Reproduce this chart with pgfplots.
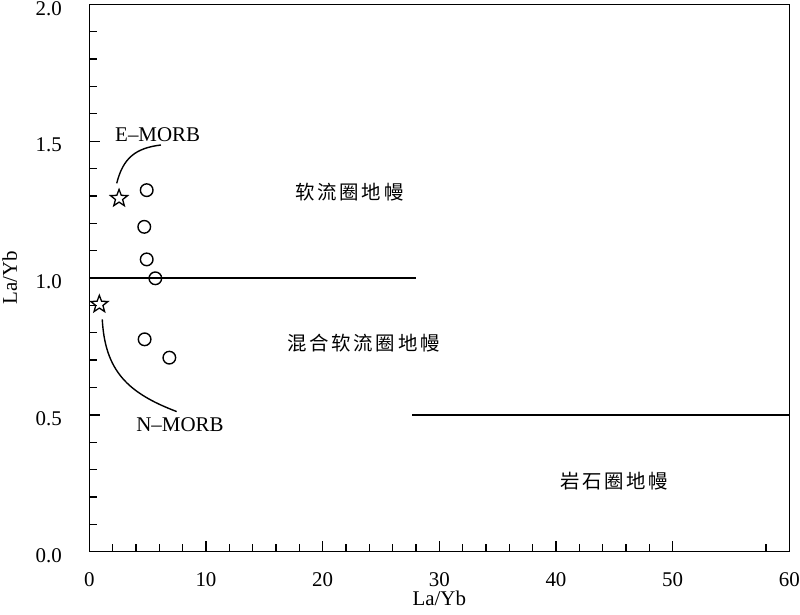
\documentclass[border=0pt]{standalone}
\usepackage{fontspec}
\setmainfont{Liberation Serif}
\newfontfamily\cjk[LetterSpace=14]{Noto Sans CJK SC}
\usepackage{pgfplots}
\pgfplotsset{compat=1.18}

\pgfdeclareplotmark{ostar}{%
  \pgfpathmoveto{\pgfpointpolar{90}{\pgfplotmarksize}}%
  \pgfpathlineto{\pgfpointpolar{126}{0.42\pgfplotmarksize}}%
  \pgfpathlineto{\pgfpointpolar{162}{\pgfplotmarksize}}%
  \pgfpathlineto{\pgfpointpolar{198}{0.42\pgfplotmarksize}}%
  \pgfpathlineto{\pgfpointpolar{234}{\pgfplotmarksize}}%
  \pgfpathlineto{\pgfpointpolar{270}{0.42\pgfplotmarksize}}%
  \pgfpathlineto{\pgfpointpolar{306}{\pgfplotmarksize}}%
  \pgfpathlineto{\pgfpointpolar{342}{0.42\pgfplotmarksize}}%
  \pgfpathlineto{\pgfpointpolar{18}{\pgfplotmarksize}}%
  \pgfpathlineto{\pgfpointpolar{54}{0.42\pgfplotmarksize}}%
  \pgfpathclose
  \pgfusepathqstroke
}

\begin{document}
\begin{tikzpicture}
\begin{axis}[
  scale only axis,
  width=700bp, height=547.4bp,
  xmin=0, xmax=60, ymin=0, ymax=2.0,
  xtick={0,10,...,60},
  minor xtick={2,4,6,8,12,14,16,18,22,24,26,28,32,34,36,38,42,44,46,48,58},
  ytick={0,0.5,...,2.0},
  minor ytick={0.1,0.2,0.3,0.4,0.6,0.7,0.8,0.9,1.1,1.2,1.3,1.4,1.6,1.7,1.8,1.9},
  xtick pos=bottom, ytick pos=left,
  tick align=inside,
  major tick length=10.5bp, minor tick length=7.5bp,
  every tick/.style={black, line width=1.3bp},
  axis line style={line width=1.4bp},
  /pgf/number format/assume math mode=true,
  /pgf/number format/.cd, fixed, zerofill, precision=1, /pgfplots/.cd,
  xticklabel={\pgfmathprintnumber[fixed,precision=0]{\tick}},
  yticklabel style={font=\fontsize{21}{25}\selectfont, xshift=-24bp, yshift=-4bp},
  xticklabel style={font=\fontsize{21}{25}\selectfont, inner sep=0pt, yshift=-21bp},
  xlabel={La/Yb}, ylabel={La/Yb},
  label style={font=\fontsize{21}{25}\selectfont},
  xlabel style={at={(axis description cs:0.5,-0.071)}, anchor=north, inner sep=0pt},
  ylabel style={at={(axis description cs:-0.098,0.5)}, anchor=south},
  clip=false,
]
% boundary lines
\addplot[black, line width=1.4bp] coordinates {(0,1.0) (28.0,1.0)};
\addplot[black, line width=1.4bp] coordinates {(27.7,0.5) (60,0.5)};
% samples
\addplot[only marks, mark=o, mark size=6.3bp, mark options={line width=1.4bp, black}] coordinates {
  (4.92,1.321) (4.71,1.187) (4.92,1.068) (5.66,0.999) (4.74,0.776) (6.86,0.709)
};
% E-MORB and N-MORB
\addplot[only marks, mark=ostar, mark size=9bp, mark options={line width=1.3bp, black}] coordinates {
  (2.55,1.291) (0.86,0.904)
};
% leader curves
\draw[line width=1.4bp] (axis cs:2.35,1.346) .. controls (axis cs:2.9,1.44) and (axis cs:4.0,1.475) .. (axis cs:6.14,1.486);
\draw[line width=1.4bp] (axis cs:1.11,0.849) .. controls (axis cs:1.35,0.66) and (axis cs:3.3,0.58) .. (axis cs:7.49,0.512);
% labels
\node[font=\fontsize{21}{25}\selectfont] at (axis cs:5.86,1.525) {E\textendash MORB};
\node[font=\fontsize{21}{25}\selectfont] at (axis cs:7.77,0.463) {N\textendash MORB};
\node[font=\fontsize{19.5}{23}\selectfont\cjk] at (axis cs:22.3,1.312) {软流圈地幔};
\node[font=\fontsize{19.5}{23}\selectfont\cjk] at (axis cs:23.5,0.762) {混合软流圈地幔};
\node[font=\fontsize{19.5}{23}\selectfont\cjk] at (axis cs:45.0,0.259) {岩石圈地幔};
% frame top/right
\draw[line width=1.4bp] (rel axis cs:0,1) -- (rel axis cs:1,1) -- (rel axis cs:1,0);
\coordinate (bbll) at (rel axis cs:-0.1276,-0.1138);
\coordinate (bbur) at (rel axis cs:1.0153,1.0079);
\end{axis}
\pgfresetboundingbox
\path (bbll) rectangle (bbur);
\end{tikzpicture}
\end{document}
